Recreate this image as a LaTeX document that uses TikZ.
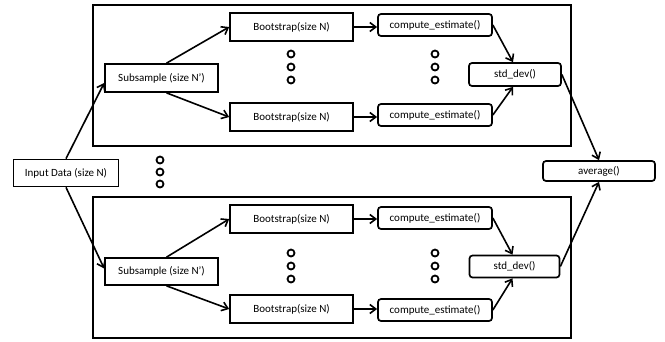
\documentclass[tikz,border=0pt]{standalone}
\usepackage{fontspec}
\setmainfont{Carlito}
\usetikzlibrary{positioning,arrows.meta}

\begin{document}
\begin{tikzpicture}[x=1pt,y=-1pt,
	box/.style={shape=rectangle,draw,line width=1.7pt,minimum height=28pt,inner sep=0pt,font=\fontsize{11}{13}\selectfont},
	fbox/.style={box,rounded corners=3pt,minimum height=22pt},
	odot/.style={shape=circle,draw,line width=1.8pt,minimum size=7pt,inner sep=0pt},
	arr/.style={line width=1.6pt,-{Straight Barb[length=6pt,width=9pt]}},
	frame/.style={draw,line width=1.8pt}]
	\useasboundingbox (0,0) rectangle (665,341);

	\draw[frame] (93,5) rectangle (571,146);
	\draw[frame] (93,197) rectangle (571,338);

	\node[box,minimum width=105pt,minimum height=27pt] (input) at (66,173) {Input Data (size N)};

	\node[box,minimum width=113pt] (sub1) at (161.5,78) {Subsample (size N’)};
	\node[box,minimum width=123pt] (boot1a) at (291.5,27) {Bootstrap(size N)};
	\node[box,minimum width=123pt] (boot1b) at (291.5,117) {Bootstrap(size N)};
	\node[fbox,minimum width=114pt] (comp1a) at (435,25) {compute\_estimate()};
	\node[fbox,minimum width=114pt] (comp1b) at (435,115) {compute\_estimate()};
	\node[fbox,minimum width=92pt,minimum height=23pt] (std1) at (515,74.5) {std\_dev()};

	\node[box,minimum width=113pt,minimum height=27pt] (sub2) at (161.5,271.5) {Subsample (size N’)};
	\node[box,minimum width=123pt] (boot2a) at (291.5,219) {Bootstrap(size N)};
	\node[box,minimum width=123pt] (boot2b) at (291.5,309) {Bootstrap(size N)};
	\node[fbox,minimum width=114pt] (comp2a) at (435,218) {compute\_estimate()};
	\node[fbox,minimum width=114pt] (comp2b) at (435,310) {compute\_estimate()};
	\node[fbox,minimum width=90pt,minimum height=22pt] (std2) at (514.5,266.5) {std\_dev()};

	\node[fbox,minimum width=112pt,minimum height=20pt] (avg) at (599,171) {average()};

	\foreach \col/\cx in {a/291,b/435} {
		\node[odot] (top\col1) at (\cx,54) {};
		\node[odot] (top\col2) at (\cx,67) {};
		\node[odot] (top\col3) at (\cx,80) {};
		\node[odot] (bot\col1) at (\cx,253) {};
		\node[odot] (bot\col2) at (\cx,266) {};
		\node[odot] (bot\col3) at (\cx,279) {};
	}
	\node[odot] (mid1) at (160,160) {};
	\node[odot] (mid2) at (160,172) {};
	\node[odot] (mid3) at (160,184) {};

	\draw (input.north) [arr] -- ([yshift=-5pt]sub1.west);
	\draw (input.south) [arr] -- ([yshift=3pt]sub2.west);

	\draw ([xshift=5pt]sub1.north) [arr] -- (boot1a.west);
	\draw ([xshift=5pt]sub1.south) [arr] -- (boot1b.west);
	\draw ([xshift=5pt]sub2.north) [arr] -- (boot2a.west);
	\draw ([xshift=5pt]sub2.south) [arr] -- (boot2b.west);

	\draw (boot1a.east) [arr] -- (boot1a.east -| comp1a.west);
	\draw (boot1b.east) [arr] -- (boot1b.east -| comp1b.west);
	\draw (boot2a.east) [arr] -- (boot2a.east -| comp2a.west);
	\draw (boot2b.east) [arr] -- (boot2b.east -| comp2b.west);

	\draw (comp1a.east) [arr] -- ([xshift=-2pt]std1.north);
	\draw (comp1b.east) [arr] -- ([xshift=-2pt]std1.south);
	\draw (comp2a.east) [arr] -- ([xshift=-2pt]std2.north);
	\draw (comp2b.east) [arr] -- ([xshift=-2pt]std2.south);

	\draw (std1.east) [arr] -- (avg.north);
	\draw (std2.east) [arr] -- (avg.south);
\end{tikzpicture}
\end{document}
